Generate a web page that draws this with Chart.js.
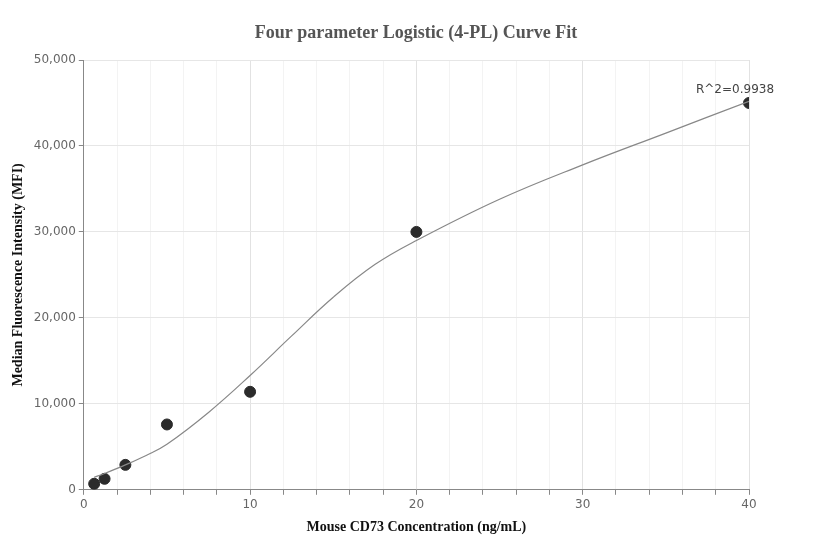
<!DOCTYPE html>
<html><head><meta charset="utf-8">
<script src="https://cdn.jsdelivr.net/npm/chart.js@4"></script>
<style>html,body{margin:0;padding:0;background:#fff}#w{width:832px;height:560px}</style>
</head><body><div id="w"><canvas id="c"></canvas></div>
<script>
const conc = [0.625, 1.25, 2.5, 5, 10, 20, 40];
const mfi = [700, 1280, 2900, 7600, 11400, 30000, 45000];
const curveX = [0.625, 1.25, 2.5, 3.75, 5, 7.5, 10, 12.5, 15, 17.5, 20, 25, 30, 35, 40];
const curveY = [1450, 1900, 2900, 4000, 5300, 9000, 13300, 17900, 22400, 26200, 29000, 33800, 37800, 41500, 45200];
const rLabel = 'R^2=0.9938';
const titleText = 'Four parameter Logistic (4-PL) Curve Fit';

const labelPlugin = {
  id: 'rlab',
  afterDatasetsDraw(chart) {
    const {ctx, scales} = chart;
    const x = scales.x.getPixelForValue(conc[conc.length-1]);
    const y = scales.y.getPixelForValue(mfi[mfi.length-1]);
    ctx.save();
    ctx.font = '12px "DejaVu Sans", sans-serif';
    ctx.fillStyle = '#444';
    ctx.textAlign = 'center';
    ctx.fillText(rLabel, x - 14, y - 10);
    ctx.font = 'bold 18px "Liberation Serif", serif';
    ctx.fillStyle = '#555';
    ctx.textBaseline = 'middle';
    ctx.fillText(titleText, chart.width / 2, 33);
    ctx.restore();
  }
};

new Chart(document.getElementById('c'), {
  type: 'scatter',
  data: { datasets: [
    { type: 'line', data: curveX.map((x,i)=>({x, y: curveY[i]})), borderColor: '#888', borderWidth: 1.2, pointRadius: 0, tension: 0.4, fill: false },
    { data: conc.map((x,i)=>({x, y: mfi[i]})), backgroundColor: '#2b2b2b', borderColor: '#2b2b2b', pointRadius: 5.5 }
  ]},
  options: {
    responsive: true, maintainAspectRatio: false, animation: false,
    layout: { padding: { top: 60, right: 83, left: 6, bottom: 20 } },
    plugins: { legend: { display: false }, tooltip: { enabled: false }, title: { display: false } },
    scales: {
      x: { type: 'linear', min: 0, max: 40,
        ticks: { stepSize: 2, autoSkip: false, color: '#666', font: { size: 12, family: '"DejaVu Sans", sans-serif' },
          callback: v => v % 10 === 0 ? v : '' },
        grid: { color: ctx => (ctx.tick && ctx.tick.value % 10 === 0) ? '#e2e2e2' : '#f3f3f3', tickColor: '#888', tickLength: 5 },
        border: { color: '#888' },
        title: { display: true, text: 'Mouse CD73 Concentration (ng/mL)', color: '#111',
          font: { family: '"Liberation Serif", serif', size: 14, weight: 'bold' } } },
      y: { min: 0, max: 50000,
        ticks: { stepSize: 10000, color: '#666', font: { size: 12, family: '"DejaVu Sans", sans-serif' },
          callback: v => v.toLocaleString('en-US') },
        grid: { color: '#e6e6e6', tickColor: '#888', tickLength: 5 },
        border: { color: '#888' },
        title: { display: true, text: 'Median Fluorescence Intensity (MFI)', color: '#111',
          font: { family: '"Liberation Serif", serif', size: 14, weight: 'bold' } } }
    }
  },
  plugins: [labelPlugin]
});
</script></body></html>
